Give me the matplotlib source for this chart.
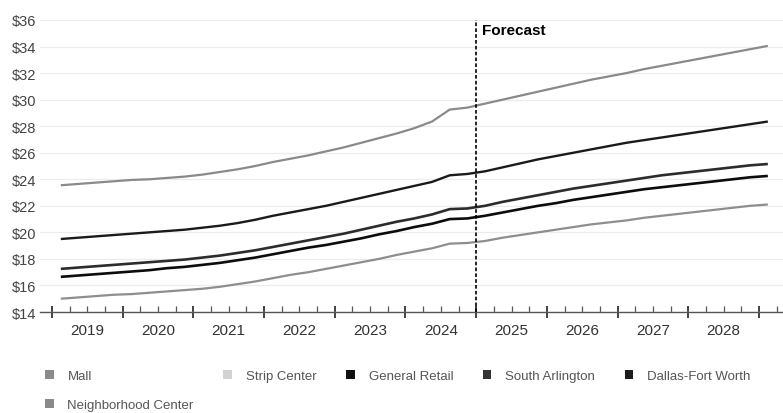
import matplotlib
matplotlib.use("Agg")
import matplotlib.pyplot as plt
from matplotlib import font_manager
from matplotlib.patches import Patch
from matplotlib.transforms import blended_transform_factory
import numpy as np

# Quarterly asking rent ($/SF) by retail segment, 2019Q1 through 2029Q1
quarters = [f"{y}Q{q}" for y in range(2019, 2029) for q in range(1, 5)] + ["2029Q1"]

mall = [23.55, 23.65, 23.75, 23.85, 23.95, 24.0, 24.1, 24.2,
        24.35, 24.55, 24.75, 25.0, 25.3, 25.55, 25.8, 26.1,
        26.4, 26.75, 27.1, 27.45, 27.85, 28.35, 29.25, 29.4,
        29.7, 30.0, 30.3, 30.6, 30.9, 31.2, 31.5, 31.75,
        32.0, 32.3, 32.55, 32.8, 33.05, 33.3, 33.55, 33.8, 34.05]

general_retail = [19.5, 19.6, 19.7, 19.8, 19.9, 20.0, 20.1, 20.2,
                  20.35, 20.5, 20.7, 20.95, 21.25, 21.5, 21.75, 22.0,
                  22.3, 22.6, 22.9, 23.2, 23.5, 23.8, 24.3, 24.4,
                  24.6, 24.9, 25.2, 25.5, 25.75, 26.0, 26.25, 26.5,
                  26.75, 26.95, 27.15, 27.35, 27.55, 27.75, 27.95, 28.15, 28.35]

south_arlington = [17.25, 17.35, 17.45, 17.55, 17.65, 17.75, 17.85, 17.95,
                   18.1, 18.25, 18.45, 18.65, 18.9, 19.15, 19.4, 19.65,
                   19.9, 20.2, 20.5, 20.8, 21.05, 21.35, 21.75, 21.8,
                   22.0, 22.3, 22.55, 22.8, 23.05, 23.3, 23.5, 23.7,
                   23.9, 24.1, 24.3, 24.45, 24.6, 24.75, 24.9, 25.05, 25.15]

dallas_fort_worth = [16.65, 16.75, 16.85, 16.95, 17.05, 17.15, 17.3, 17.4,
                     17.55, 17.7, 17.9, 18.1, 18.35, 18.6, 18.85, 19.05,
                     19.3, 19.55, 19.85, 20.1, 20.4, 20.65, 21.0, 21.05,
                     21.25, 21.5, 21.75, 22.0, 22.2, 22.45, 22.65, 22.85,
                     23.05, 23.25, 23.4, 23.55, 23.7, 23.85, 24.0, 24.15, 24.25]

neighborhood_center = [15.0, 15.1, 15.2, 15.3, 15.35, 15.45, 15.55, 15.65,
                       15.75, 15.9, 16.1, 16.3, 16.55, 16.8, 17.0, 17.25,
                       17.5, 17.75, 18.0, 18.3, 18.55, 18.8, 19.15, 19.2,
                       19.35, 19.6, 19.8, 20.0, 20.2, 20.4, 20.6, 20.75,
                       20.9, 21.1, 21.25, 21.4, 21.55, 21.7, 21.85, 22.0, 22.1]

years = list(range(2019, 2029))
year_labels = [str(y) for y in years]
y_ticks = list(range(14, 37, 2))
forecast_start = 2025.0

# quarter midpoints in decimal years
def q_to_x(label):
    y, q = label.split("Q")
    return int(y) + (int(q) - 0.5) / 4.0

x = np.array([q_to_x(q) for q in quarters])

names = {f.name for f in font_manager.fontManager.ttflist}
base_font = "Liberation Sans" if "Liberation Sans" in names else "DejaVu Sans"
plt.rcParams["font.family"] = [base_font, "DejaVu Sans"]

fig = plt.figure(figsize=(7.83, 4.14), dpi=100)
ax = fig.add_axes([40 / 783, 1 - 313 / 414, 1 - 40 / 783, (313 - 21) / 414])

series = [
    ("Mall", mall, "#8a8a8a", 1.6),
    ("General Retail", general_retail, "#1a1a1a", 1.7),
    ("South Arlington", south_arlington, "#2c2c2c", 1.9),
    ("Dallas-Fort Worth", dallas_fort_worth, "#0c0c0c", 1.9),
    ("Neighborhood Center", neighborhood_center, "#8e8e8e", 1.6),
]
for name, vals, color, lw in series:
    ax.plot(x, vals, color=color, lw=lw, solid_capstyle="butt", zorder=3)

ax.set_ylim(14, 36)
ax.set_xlim(2019 - 12 / 70.7, 2019 + 731 / 70.7)
ax.set_yticks(y_ticks)
ax.set_yticklabels([f"${v}" for v in y_ticks])
ax.grid(axis="y", color="#ececec", lw=0.9)
ax.set_axisbelow(True)

for s in ["left", "right", "top"]:
    ax.spines[s].set_visible(False)
ax.spines["bottom"].set_color("#555555")
ax.spines["bottom"].set_linewidth(1.0)

ax.tick_params(axis="y", length=0, labelsize=10.5, labelcolor="#444444", pad=3)
ax.set_xticks(list(range(2019, 2030)))
ax.set_xticklabels([])
ax.set_xticks(np.arange(2019, 2029.5, 0.25), minor=True)
ax.tick_params(axis="x", which="major", direction="inout", length=9, width=1.3, color="#333333")
ax.tick_params(axis="x", which="minor", direction="in", length=4, width=0.9, color="#555555")

trans = blended_transform_factory(ax.transData, ax.transAxes)
for yr, lab in zip(years, year_labels):
    ax.text(yr + 0.5, -0.06, lab, transform=trans, ha="center", va="center",
            fontsize=11, color="#333333")

ax.axvline(forecast_start, color="black", lw=1.2, ls=(0, (2.2, 1.3)), zorder=4)
ax.annotate("Forecast", xy=(forecast_start, 36), xytext=(4, -7.5),
            textcoords="offset points", ha="left", va="center",
            fontsize=11, fontweight="bold", color="black")

legend_items = [
    ("Mall", "#8a8a8a"),
    ("Neighborhood Center", "#8a8a8a"),
    ("Strip Center", "#d2d2d2"),
    ("General Retail", "#111111"),
    ("South Arlington", "#333333"),
    ("Dallas-Fort Worth", "#1c1c1c"),
]
handles = [Patch(facecolor=c, edgecolor="none", label=n) for n, c in legend_items]
fig.legend(handles=handles, ncol=5, loc="upper left", bbox_to_anchor=(45 / 783, 1 - 371 / 414),
           frameon=False, fontsize=9.5, labelcolor="#555555",
           handlelength=0.65, handleheight=0.65, handletextpad=1.05,
           columnspacing=2.25, labelspacing=1.3, borderaxespad=0, borderpad=0)

fig.savefig("out.png", dpi=100)
